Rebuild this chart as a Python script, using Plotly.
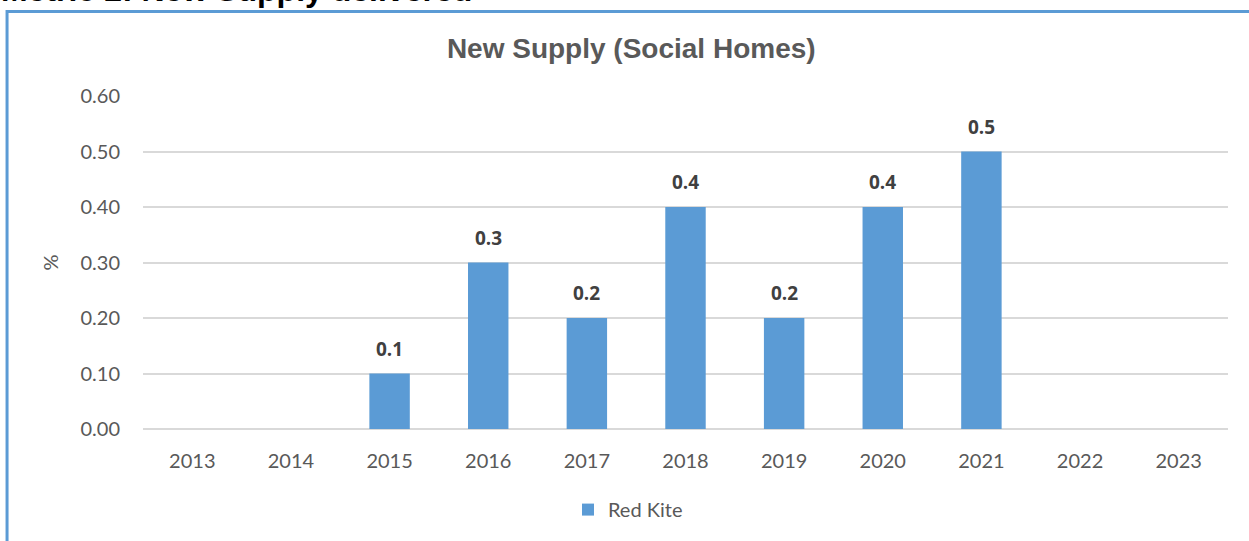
import plotly.graph_objects as go

years = ["2013", "2014", "2015", "2016", "2017", "2018", "2019", "2020", "2021", "2022", "2023"]
red_kite = [None, None, 0.1, 0.3, 0.2, 0.4, 0.2, 0.4, 0.5, None, None]
y_ticks = [0.0, 0.1, 0.2, 0.3, 0.4, 0.5, 0.6]

GREY = "#595959"
BLUE = "#5B9BD5"

fig = go.Figure()

fig.add_trace(
    go.Bar(
        x=years,
        y=red_kite,
        name="Red Kite",
        marker=dict(color=BLUE, line=dict(width=0)),
    )
)

# data labels above the bars (category index as x)
for i, v in enumerate(red_kite):
    if v is None:
        continue
    fig.add_annotation(
        x=i,
        y=v,
        text="<b>%.1f</b>" % v,
        showarrow=False,
        yanchor="middle",
        yshift=25,
        font=dict(family="Open Sans", size=19, color="#404040"),
    )

# page heading, cut off at the top
fig.add_annotation(
    xref="paper",
    yref="paper",
    x=-0.133,
    y=1.319,
    xanchor="left",
    yanchor="middle",
    text="<b>Metric 2: New Supply delivered</b>",
    showarrow=False,
    font=dict(family="Liberation Sans", size=32, color="black"),
)

# chart frame (left and top edges visible)
fig.add_shape(
    type="rect",
    xref="paper",
    yref="paper",
    x0=-0.1253,
    y0=-0.6,
    x1=1.2,
    y1=1.2537,
    line=dict(color=BLUE, width=3),
    layer="below",
)

fig.update_layout(
    width=1249,
    height=541,
    margin=dict(l=143, r=21, t=96, b=110),
    paper_bgcolor="white",
    plot_bgcolor="white",
    bargap=0.59,
    title=dict(
        text="<b>New Supply (Social Homes)</b>",
        x=0.45,
        xref="paper",
        xanchor="center",
        y=1 - 48 / 541,
        yanchor="middle",
        font=dict(family="Liberation Sans", size=28, color=GREY),
    ),
    xaxis=dict(
        type="category",
        range=[-0.5, len(years) - 0.5],
        showgrid=False,
        showline=False,
        ticks="",
        ticklabelstandoff=18,
        tickfont=dict(family="Lato", size=20, color=GREY),
    ),
    yaxis=dict(
        range=[0, 0.6],
        tickvals=y_ticks,
        tickformat=".2f",
        showgrid=True,
        gridcolor="#D9D9D9",
        gridwidth=1.5,
        zeroline=True,
        zerolinecolor="#D9D9D9",
        zerolinewidth=1.5,
        ticks="",
        ticklabelstandoff=22,
        tickfont=dict(family="Lato", size=20, color=GREY),
        title=dict(text="%", standoff=16, font=dict(family="Lato", size=20, color=GREY)),
    ),
    showlegend=True,
    legend=dict(
        orientation="h",
        x=0.447,
        xanchor="center",
        y=-0.242,
        yanchor="middle",
        font=dict(family="Lato", size=20, color=GREY),
    ),
)

fig.write_html(
    "out.html",
    config={"displayModeBar": False},
    post_script="document.body.style.margin='0';",
)
